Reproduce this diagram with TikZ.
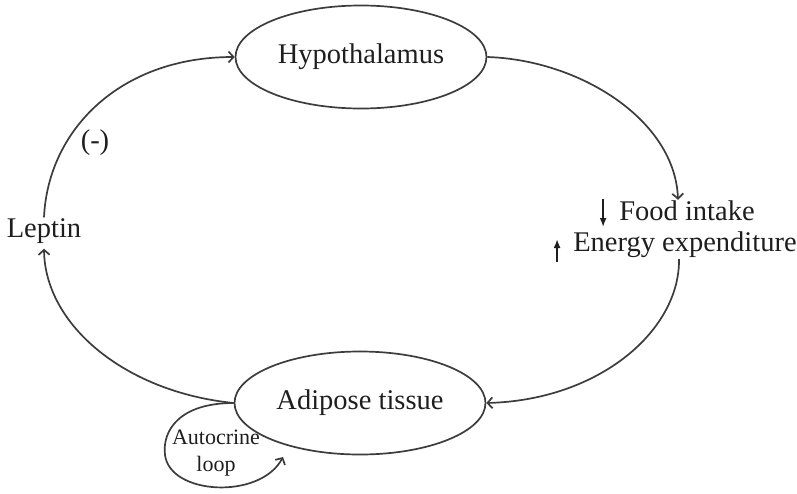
\documentclass[tikz,border=0pt]{standalone}
\usepackage{fontspec}
\setmainfont{Liberation Serif}
\usetikzlibrary{arrows.meta,shapes.geometric}

\definecolor{linkgray}{RGB}{60, 60, 60}
\definecolor{inkblack}{RGB}{30, 30, 30}

\begin{document}
\begin{tikzpicture}[x=1pt, y=-1pt, >={Straight Barb[length=5pt,width=11pt]},
        organ/.style={ellipse, draw=linkgray, line width=1.7pt, minimum width=251pt,
            minimum height=103pt, inner sep=0pt, text=inkblack, font=\fontsize{28.5}{34}\selectfont},
        lbl/.style={inner sep=1pt, text=inkblack, font=\fontsize{28.5}{34}\selectfont},
        link/.style={->, draw=linkgray, line width=1.7pt}]

    \useasboundingbox (0,0) rectangle (797,493);

    % --- organs ---
    \node[organ] (hyp) at (361,57) {Hypothalamus};
    \node[organ] (adip) at (360,403) {Adipose tissue};

    % --- labels round the cycle ---
    \node[lbl] (leptin) at (44,231) {Leptin};
    \node[lbl] (neg) at (95,143) {(-)};
    \node[lbl] (food) at (687,211) {Food intake};
    \node[lbl] (energy) at (685,245) {Energy expenditure};
    \node[lbl, align=center, font=\fontsize{22}{27}\selectfont] (auto) at (216,453) {Autocrine\\loop};

    % --- feedback cycle ---
    \draw[link] (adip.west) .. controls (125,392) and (45,325) .. ([yshift=-4pt]leptin.south);
    \draw[link] (leptin.north) .. controls (48,130) and (120,57) .. (hyp.west);
    \draw[link] (hyp.east) .. controls (580,60) and (675,120) .. ([xshift=-9pt]food.north);
    \draw[link] ([xshift=-6pt]energy.south) .. controls (680,330) and (600,400) .. (adip.east);

    % --- autocrine loop ---
    \draw[link] (adip.west) .. controls (180,403) and (162,430) .. (165,455)
        .. controls (170,495) and (260,500) .. (283,457);

    % --- up / down markers ---
    \draw[-{Latex[length=9pt,width=7pt]}, line width=1.8pt, inkblack]
        ([xshift=-15pt,yshift=12pt]food.west) -- ([xshift=-15pt,yshift=-16pt]food.west);
    \draw[-{Latex[length=9pt,width=7pt]}, line width=1.8pt, inkblack]
        ([xshift=-15pt,yshift=-17pt]energy.west) -- ([xshift=-15pt,yshift=6pt]energy.west);

\end{tikzpicture}
\end{document}
